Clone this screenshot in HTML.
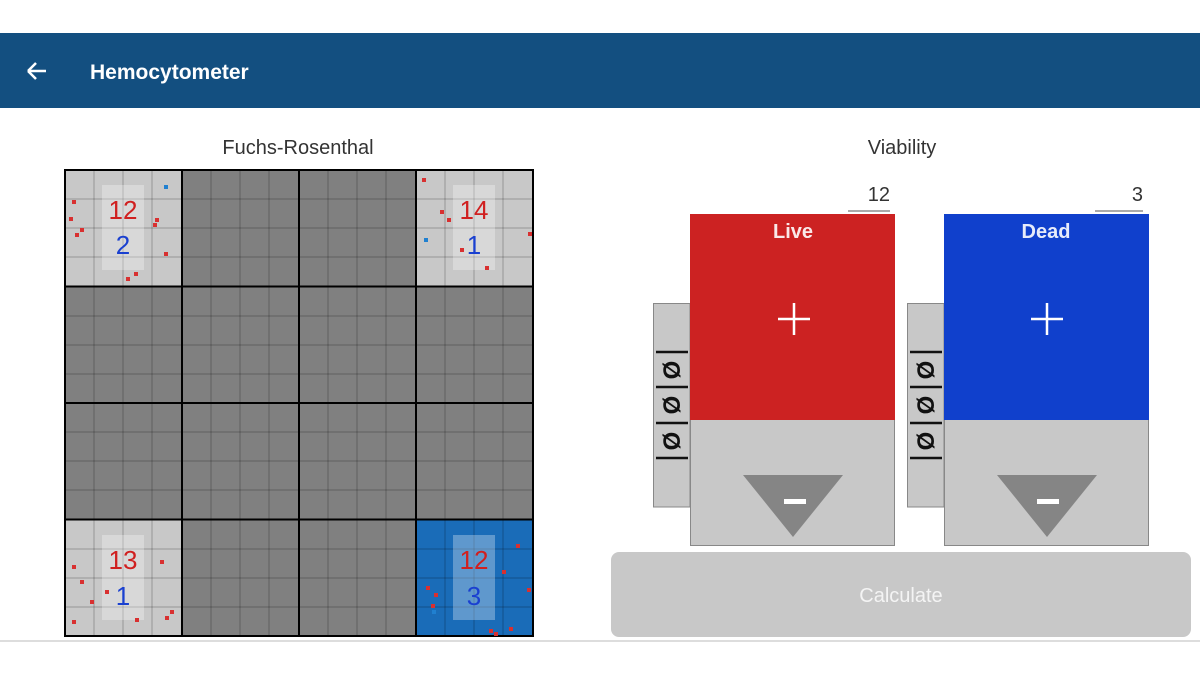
<!DOCTYPE html>
<html><head><meta charset="utf-8"><style>
body{margin:0;width:1200px;height:675px;background:#fff;font-family:"Liberation Sans",sans-serif;overflow:hidden}
</style></head><body>
<svg width="1200" height="675" xmlns="http://www.w3.org/2000/svg" font-family="Liberation Sans, DejaVu Sans, sans-serif">
<rect x="0" y="33" width="1200" height="75" fill="#134f80"/>
<path d="M28 71 H46 M28 71 L36 63 M28 71 L36 79" stroke="#fff" stroke-width="2.5" fill="none"/>
<text x="90" y="79" fill="#fff" font-size="21" font-weight="bold">Hemocytometer</text>
<text x="298" y="154" text-anchor="middle" font-size="20" fill="#333">Fuchs-Rosenthal</text>
<text x="902" y="154" text-anchor="middle" font-size="20" fill="#333">Viability</text>
<line x1="0" y1="641" x2="1200" y2="641" stroke="#bbb" stroke-width="1"/>

<g>
<rect x="65" y="170" width="468" height="466" fill="#808080"/>
<rect x="65" y="170" width="117" height="116.5" fill="#c8c8c8"/>
<rect x="416" y="170" width="117" height="116.5" fill="#c8c8c8"/>
<rect x="65" y="519.5" width="117" height="116.5" fill="#c8c8c8"/>
<rect x="416" y="519.5" width="117" height="116.5" fill="#1a6cb8"/>
<g stroke="#000" stroke-opacity="0.25" stroke-width="1">
<line x1="94" y1="170" x2="94" y2="636"/><line x1="123" y1="170" x2="123" y2="636"/><line x1="152" y1="170" x2="152" y2="636"/>
<line x1="211" y1="170" x2="211" y2="636"/><line x1="240" y1="170" x2="240" y2="636"/><line x1="269" y1="170" x2="269" y2="636"/>
<line x1="328" y1="170" x2="328" y2="636"/><line x1="357" y1="170" x2="357" y2="636"/><line x1="386" y1="170" x2="386" y2="636"/>
<line x1="445" y1="170" x2="445" y2="636"/><line x1="474" y1="170" x2="474" y2="636"/><line x1="503" y1="170" x2="503" y2="636"/>
<line x1="65" y1="199" x2="533" y2="199"/><line x1="65" y1="228" x2="533" y2="228"/><line x1="65" y1="257" x2="533" y2="257"/>
<line x1="65" y1="316" x2="533" y2="316"/><line x1="65" y1="345" x2="533" y2="345"/><line x1="65" y1="374" x2="533" y2="374"/>
<line x1="65" y1="432" x2="533" y2="432"/><line x1="65" y1="461" x2="533" y2="461"/><line x1="65" y1="490" x2="533" y2="490"/>
<line x1="65" y1="549" x2="533" y2="549"/><line x1="65" y1="578" x2="533" y2="578"/><line x1="65" y1="607" x2="533" y2="607"/>
</g>
<g stroke="#000" stroke-width="2" fill="none">
<rect x="65" y="170" width="468" height="466"/>
<line x1="182" y1="170" x2="182" y2="636"/><line x1="299" y1="170" x2="299" y2="636"/><line x1="416" y1="170" x2="416" y2="636"/>
<line x1="65" y1="286.5" x2="533" y2="286.5"/><line x1="65" y1="403" x2="533" y2="403"/><line x1="65" y1="519.5" x2="533" y2="519.5"/>
</g>
<g fill="#fff" fill-opacity="0.3">
<rect x="102" y="185" width="42" height="85"/>
<rect x="453" y="185" width="42" height="85"/>
<rect x="102" y="535" width="42" height="85"/>
<rect x="453" y="535" width="42" height="85"/>
</g>
<g font-size="26" text-anchor="middle">
<text x="123" y="219" fill="#d02020">12</text><text x="123" y="254" fill="#1a40d0">2</text>
<text x="474" y="219" fill="#d02020">14</text><text x="474" y="254" fill="#1a40d0">1</text>
<text x="123" y="569" fill="#d02020">13</text><text x="123" y="605" fill="#1a40d0">1</text>
<text x="474" y="569" fill="#d02020">12</text><text x="474" y="605" fill="#1a40d0">3</text>
</g>
<g fill="#d83030">
<rect x="72" y="200" width="4" height="4"/><rect x="69" y="217" width="4" height="4"/><rect x="80" y="228" width="4" height="4"/><rect x="75" y="233" width="4" height="4"/><rect x="155" y="218" width="4" height="4"/><rect x="153" y="223" width="4" height="4"/><rect x="164" y="252" width="4" height="4"/><rect x="134" y="272" width="4" height="4"/><rect x="126" y="277" width="4" height="4"/>
<rect x="422" y="178" width="4" height="4"/><rect x="440" y="210" width="4" height="4"/><rect x="447" y="218" width="4" height="4"/><rect x="528" y="232" width="4" height="4"/><rect x="485" y="266" width="4" height="4"/><rect x="460" y="248" width="4" height="4"/>
<rect x="72" y="565" width="4" height="4"/><rect x="160" y="560" width="4" height="4"/><rect x="80" y="580" width="4" height="4"/><rect x="90" y="600" width="4" height="4"/><rect x="105" y="590" width="4" height="4"/><rect x="170" y="610" width="4" height="4"/><rect x="165" y="616" width="4" height="4"/><rect x="72" y="620" width="4" height="4"/><rect x="135" y="618" width="4" height="4"/>
<rect x="516" y="544" width="4" height="4"/><rect x="502" y="570" width="4" height="4"/><rect x="426" y="586" width="4" height="4"/><rect x="434" y="593" width="4" height="4"/><rect x="431" y="604" width="4" height="4"/><rect x="527" y="588" width="4" height="4"/><rect x="489" y="629" width="4" height="4"/><rect x="494" y="632" width="4" height="4"/><rect x="509" y="627" width="4" height="4"/>
</g>
<g fill="#2080d0"><rect x="164" y="185" width="4" height="4"/><rect x="424" y="238" width="4" height="4"/><rect x="432" y="610" width="4" height="4"/></g>
</g>

<g>
<text x="890" y="201" text-anchor="end" font-size="20" fill="#333">12</text>
<line x1="848" y1="211" x2="890" y2="211" stroke="#555"/>
<path d="M653.5 303.5 H690 V507 H653.5 Z" fill="#c8c8c8" stroke="#888"/>
<rect x="690.5" y="214.5" width="204" height="331" fill="#c8c8c8" stroke="#888"/>
<rect x="690" y="214" width="205" height="206" fill="#cc2222"/>
<text x="793" y="238" text-anchor="middle" font-size="20" fill="#fff" font-weight="bold" fill-opacity="0.9">Live</text>
<path d="M778 319 H810 M794 303 V335" stroke="#fff" stroke-width="2.5"/>
<path d="M743 475 H843 L793 537 Z" fill="#858585"/>
<rect x="784" y="499" width="22" height="5" fill="#fff"/>
<g stroke="#111" stroke-width="2.5"><line x1="656" y1="352" x2="688" y2="352"/><line x1="656" y1="387" x2="688" y2="387"/><line x1="656" y1="423" x2="688" y2="423"/><line x1="656" y1="458" x2="688" y2="458"/></g>
<g font-size="24" text-anchor="middle" fill="#111" font-weight="bold">
<text transform="translate(680,370) rotate(-90)">Ø</text>
<text transform="translate(680,405) rotate(-90)">Ø</text>
<text transform="translate(680,441) rotate(-90)">Ø</text>
</g>
</g>
<g>
<text x="1143" y="201" text-anchor="end" font-size="20" fill="#333">3</text>
<line x1="1095" y1="211" x2="1143" y2="211" stroke="#555"/>
<path d="M907.5 303.5 H944 V507 H907.5 Z" fill="#c8c8c8" stroke="#888"/>
<rect x="944.5" y="214.5" width="204" height="331" fill="#c8c8c8" stroke="#888"/>
<rect x="944" y="214" width="205" height="206" fill="#1040cc"/>
<text x="1046" y="238" text-anchor="middle" font-size="20" fill="#fff" font-weight="bold" fill-opacity="0.9">Dead</text>
<path d="M1031 319 H1063 M1047 303 V335" stroke="#fff" stroke-width="2.5"/>
<path d="M997 475 H1097 L1047 537 Z" fill="#858585"/>
<rect x="1037" y="499" width="22" height="5" fill="#fff"/>
<g stroke="#111" stroke-width="2.5"><line x1="910" y1="352" x2="942" y2="352"/><line x1="910" y1="387" x2="942" y2="387"/><line x1="910" y1="423" x2="942" y2="423"/><line x1="910" y1="458" x2="942" y2="458"/></g>
<g font-size="24" text-anchor="middle" fill="#111" font-weight="bold">
<text transform="translate(934,370) rotate(-90)">Ø</text>
<text transform="translate(934,405) rotate(-90)">Ø</text>
<text transform="translate(934,441) rotate(-90)">Ø</text>
</g>
</g>

<rect x="611" y="552" width="580" height="85" rx="8" fill="#c8c8c8"/>
<text x="901" y="602" text-anchor="middle" font-size="20" fill="#f4f4f4">Calculate</text>
</svg>
</body></html>
